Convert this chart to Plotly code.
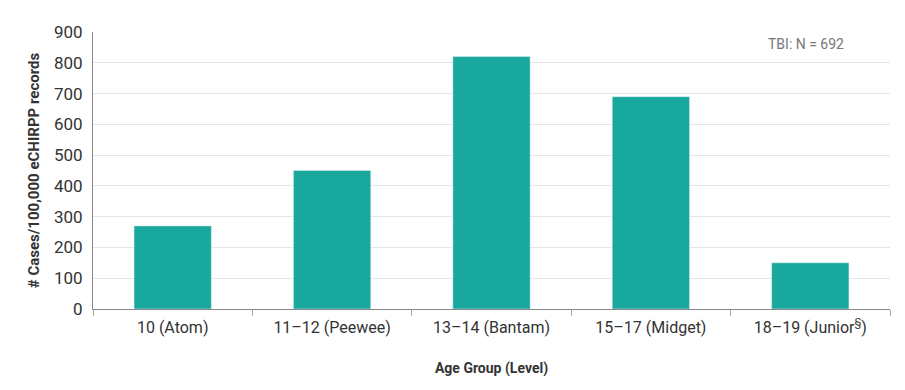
import plotly.graph_objects as go

categories = ["10 (Atom)", "11–12 (Peewee)", "13–14 (Bantam)", "15–17 (Midget)", "18–19 (Junior<sup>§</sup>)"]
values = [270, 450, 820, 690, 150]
y_ticks = [0, 100, 200, 300, 400, 500, 600, 700, 800, 900]

FONT = "Roboto, Liberation Sans, sans-serif"

fig = go.Figure(go.Bar(x=categories, y=values, marker_color="#19a89d", width=0.485))

fig.update_layout(
    width=905, height=390,
    margin=dict(l=93, r=15, t=32, b=81),
    plot_bgcolor="white", paper_bgcolor="white",
    font=dict(family=FONT, size=16, color="#333333"),
    showlegend=False,
    annotations=[dict(text="TBI: N = 692", x=0.945, y=0.955, xref="paper", yref="paper",
                      xanchor="right", yanchor="middle", showarrow=False,
                      font=dict(family=FONT, size=14, color="#777777"))],
)
fig.update_xaxes(
    title=dict(text="<b>Age Group (Level)</b>", font=dict(size=14), standoff=26),
    showline=True, linecolor="#888888", linewidth=1,
    ticks="outside", tickson="boundaries", ticklen=6, tickcolor="#aaaaaa",
    ticklabelstandoff=4,
    showgrid=False,
)
fig.update_yaxes(
    title=dict(text="<b># Cases/100,000 eCHIRPP records</b>", font=dict(size=15), standoff=10),
    range=[0, 900], tickvals=y_ticks, tickfont=dict(size=17),
    showline=True, linecolor="#888888", linewidth=1,
    gridcolor="#e6e6e6", zeroline=False,
    ticks="outside", ticklen=6, tickcolor="white",
)

fig.write_html("out.html")
